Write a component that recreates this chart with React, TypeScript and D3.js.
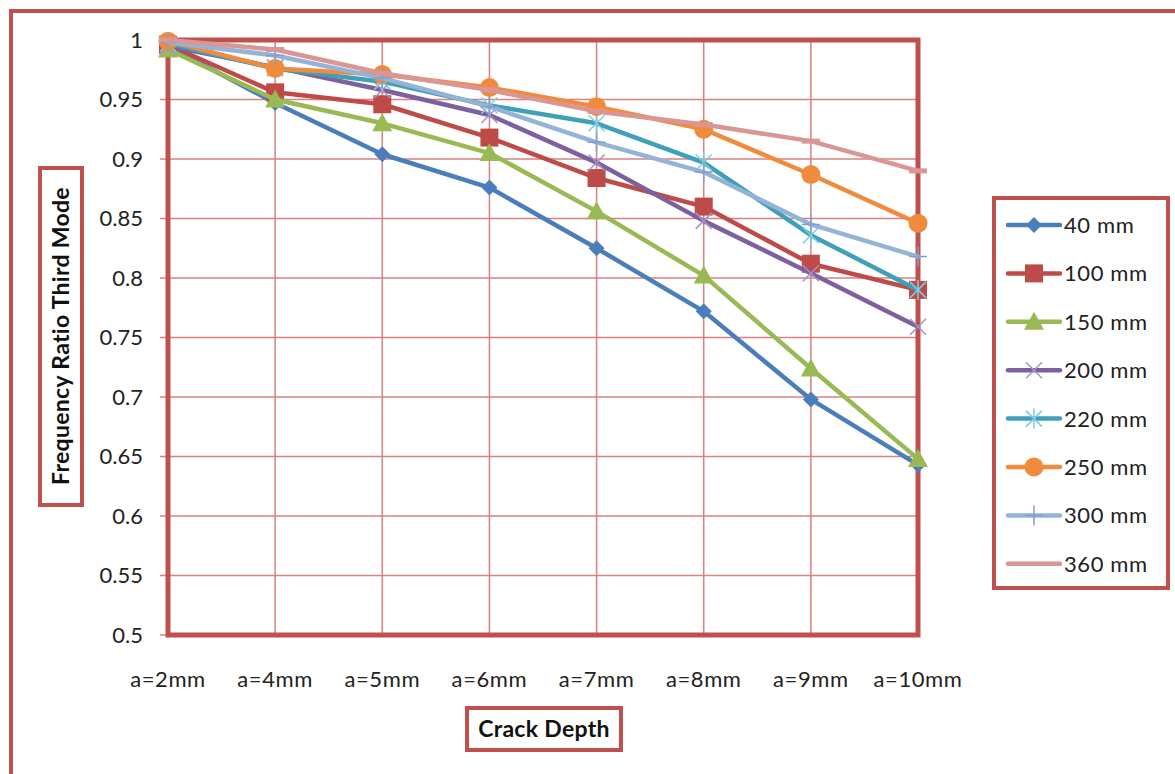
import React from "react";
import * as d3 from "d3";

const categories = ["a=2mm", "a=4mm", "a=5mm", "a=6mm", "a=7mm", "a=8mm", "a=9mm", "a=10mm"];
const yTicks = [0.5, 0.55, 0.6, 0.65, 0.7, 0.75, 0.8, 0.85, 0.9, 0.95, 1];

const s40 = [0.995, 0.947, 0.904, 0.876, 0.825, 0.772, 0.698, 0.643];
const s100 = [0.996, 0.956, 0.946, 0.918, 0.884, 0.860, 0.812, 0.790];
const s150 = [0.992, 0.950, 0.930, 0.905, 0.856, 0.802, 0.724, 0.648];
const s200 = [0.995, 0.977, 0.958, 0.937, 0.897, 0.848, 0.804, 0.759];
const s220 = [0.997, 0.976, 0.965, 0.945, 0.930, 0.897, 0.836, 0.790];
const s250 = [0.999, 0.976, 0.971, 0.960, 0.944, 0.925, 0.887, 0.846];
const s300 = [0.998, 0.987, 0.968, 0.944, 0.914, 0.889, 0.845, 0.818];
const s360 = [1.0, 0.992, 0.972, 0.958, 0.940, 0.929, 0.915, 0.890];

const seriesNames = ["40 mm", "100 mm", "150 mm", "200 mm", "220 mm", "250 mm", "300 mm", "360 mm"];
const seriesValues = [s40, s100, s150, s200, s220, s250, s300, s360];
const lineColors = ["#4a7ebb", "#be4b48", "#98b954", "#7d60a0", "#3fa0b8", "#f08a3c", "#95b3d7", "#d99694"];
const markerColors = ["#4a7ebb", "#be4b48", "#98b954", "#a593c8", "#7ccde0", "#f08a3c", "#7f9fd0", "#d99694"];
const markerTypes = ["diamond", "square", "triangle", "x", "star", "circle", "plus", "dash"];

const RED = "#c0504d";
const GRID = "#d98080";
const FONT = "Lato, 'Open Sans', sans-serif";

function Marker({ type, x, y, color }: { type: string; x: number; y: number; color: string }) {
  switch (type) {
    case "diamond":
      return <path d={`M${x},${y - 8}L${x + 8},${y}L${x},${y + 8}L${x - 8},${y}Z`} fill={color} />;
    case "square":
      return <rect x={x - 9} y={y - 9} width={18} height={18} fill={color} />;
    case "triangle":
      return <path d={`M${x},${y - 10}L${x + 10},${y + 8}L${x - 10},${y + 8}Z`} fill={color} />;
    case "circle":
      return <circle cx={x} cy={y} r={9.5} fill={color} />;
    case "x":
      return (
        <path d={`M${x - 8},${y - 8}L${x + 8},${y + 8}M${x - 8},${y + 8}L${x + 8},${y - 8}`} stroke={color} strokeWidth={1.5} />
      );
    case "star":
      return (
        <path
          d={`M${x - 8},${y - 8}L${x + 8},${y + 8}M${x - 8},${y + 8}L${x + 8},${y - 8}M${x},${y - 10}L${x},${y + 10}`}
          stroke={color}
          strokeWidth={1.5}
        />
      );
    case "plus":
      return <path d={`M${x - 9},${y}L${x + 9},${y}M${x},${y - 10}L${x},${y + 10}`} stroke={color} strokeWidth={1.5} />;
    case "dash":
      return <path d={`M${x - 9},${y}L${x + 9},${y}`} stroke={color} strokeWidth={5} />;
    default:
      return null;
  }
}

export default function App() {
  const left = 168, right = 918, top = 40, bottom = 635;
  const x = d3.scalePoint<string>().domain(categories).range([left, right]).padding(0);
  const y = d3.scaleLinear().domain([0.5, 1]).range([bottom, top]);
  const line = d3
    .line<number>()
    .x((_, i) => x(categories[i]) as number)
    .y((d) => y(d));

  const legendX = 994, legendY = 198, legendW = 174, legendH = 390;
  const legendStep = 48.4;

  return (
    <svg width={1175} height={774} style={{ position: "absolute", left: 0, top: 0 }} fontFamily={FONT}>
      <rect x={0} y={0} width={1175} height={774} fill="#fff" />
      {/* outer chart frame */}
      <rect x={11} y={11} width={1200} height={800} fill="none" stroke={RED} strokeWidth={4} />

      {/* gridlines */}
      {yTicks.map((t) => (
        <line key={"gy" + t} x1={left - 8} x2={right} y1={y(t)} y2={y(t)} stroke={GRID} strokeWidth={1.5} />
      ))}
      {categories.map((c) => (
        <line key={"gx" + c} x1={x(c)} x2={x(c)} y1={top} y2={bottom} stroke={GRID} strokeWidth={1.5} />
      ))}
      {/* plot border */}
      <rect x={left} y={top} width={right - left} height={bottom - top} fill="none" stroke={RED} strokeWidth={5} />

      {/* y tick labels */}
      {yTicks.map((t) => (
        <text key={"ty" + t} x={143} y={y(t)} dy="0.36em" textAnchor="end" fontSize={22} fill="#222">
          {d3.format("")(t)}
        </text>
      ))}
      {/* x tick labels */}
      {categories.map((c) => (
        <text key={"tx" + c} x={x(c)} y={679} dy="0.36em" textAnchor="middle" fontSize={22} fill="#222" letterSpacing={0.6}>
          {c}
        </text>
      ))}

      {/* series */}
      {seriesValues.map((vals, si) => (
        <g key={"s" + si}>
          <path
            d={line(vals) as string}
            fill="none"
            stroke={lineColors[si]}
            strokeWidth={4.5}
            strokeLinejoin="round"
            strokeLinecap="round"
          />
          {vals.map((v, i) => (
            <Marker key={i} type={markerTypes[si]} x={x(categories[i]) as number} y={y(v)} color={markerColors[si]} />
          ))}
        </g>
      ))}

      {/* y axis title */}
      <rect x={40} y={168} width={42} height={337} fill="#fff" stroke={RED} strokeWidth={4} />
      <text
        transform={`translate(61,336) rotate(-90)`}
        textAnchor="middle"
        dy="0.36em"
        fontSize={23}
        fontWeight="bold"
        fill="#111"
        letterSpacing={0.3}
      >
        Frequency Ratio Third Mode
      </text>

      {/* x axis title */}
      <rect x={467} y={708} width={154} height={42} fill="#fff" stroke={RED} strokeWidth={4} />
      <text x={544} y={729} dy="0.36em" textAnchor="middle" fontSize={23} fontWeight="bold" fill="#111" letterSpacing={0.3}>
        Crack Depth
      </text>

      {/* legend */}
      <rect x={legendX} y={legendY} width={legendW} height={legendH} fill="#fff" stroke={RED} strokeWidth={4} />
      {seriesNames.map((n, i) => {
        const ly = legendY + 27 + i * legendStep;
        return (
          <g key={"lg" + i}>
            <line x1={1008} x2={1060} y1={ly} y2={ly} stroke={lineColors[i]} strokeWidth={4.5} strokeLinecap="round" />
            {markerTypes[i] !== "dash" && <Marker type={markerTypes[i]} x={1034} y={ly} color={markerColors[i]} />}
            <text x={1064} y={ly} dy="0.36em" fontSize={22} fill="#222" letterSpacing={0.6}>
              {n}
            </text>
          </g>
        );
      })}
    </svg>
  );
}
